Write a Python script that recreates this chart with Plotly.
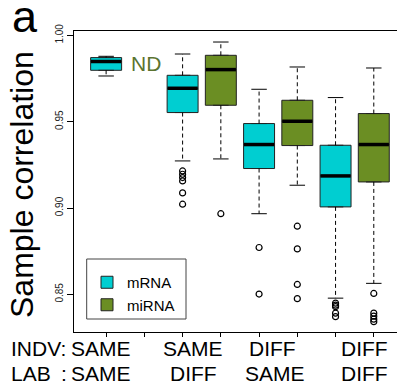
import plotly.graph_objects as go

# ---------------- data ----------------
series = ["mRNA", "miRNA"]

# box positions on the numeric x axis (group slots 1..8; slot 2 = miRNA SAME/SAME not determined)
mrna_pos = [1, 3, 5, 7]
mirna_pos = [4, 6, 8]

mrna_lower = [0.97645, 0.92726, 0.89670, 0.84780]
mrna_q1 = [0.97975, 0.95527, 0.92286, 0.90064]
mrna_median = [0.98484, 0.96933, 0.93675, 0.91858]
mrna_q3 = [0.98710, 0.97685, 0.94890, 0.93634]
mrna_upper = [0.98785, 0.98918, 0.96875, 0.96395]
mrna_outliers = [
    [],
    [0.92147, 0.91956, 0.91765, 0.91568, 0.90874, 0.90220],
    [0.87714, 0.85017],
    [0.84491, 0.84375, 0.84288, 0.83912, 0.83710],
]

mirna_lower = [0.92842, 0.91319, 0.85637]
mirna_q1 = [0.95949, 0.93617, 0.91510]
mirna_median = [0.98015, 0.95023, 0.93675]
mirna_q3 = [0.98843, 0.96238, 0.95469]
mirna_upper = [0.99612, 0.98166, 0.98108]
mirna_outliers = [
    [0.89670],
    [0.88947, 0.87633, 0.85573, 0.84751],
    [0.85052, 0.83912, 0.83738, 0.83565, 0.83420],
]

nd_label = "ND"
nd_pos = 2

y_ticks = [0.85, 0.90, 0.95, 1.00]
y_tick_labels = ["0.85", "0.90", "0.95", "1.00"]

row_titles = ["INDV", "LAB"]
indv_labels = ["SAME", "SAME", "DIFF", "DIFF"]
lab_labels = ["SAME", "DIFF", "SAME", "DIFF"]
y_title = "Sample correlation"
panel_label = "a"

# ---------------- style ----------------
CYAN = "#00CED1"
OLIVE = "#6B8E23"
ND_COLOR = "#5B7330"
FONT = "Liberation Sans, Arial, sans-serif"
BOX_W = 0.81

# the page body has an 8px margin, so the figure is sized to fill the rest of the window
OFF = 8
W, H = 405 - OFF, 384 - OFF
ML, MR, MT, MB = 74 - OFF, 1, 31 - OFF, 52
PW, PH = W - ML - MR, H - MT - MB


def px_x(p):
    """window pixel x -> paper coordinate"""
    return (p - OFF - ML) / PW


def px_y(p):
    """window pixel y -> paper coordinate"""
    return (H - MB - (p - OFF)) / PH


fig = go.Figure()


def add_series(name, pos, lo, q1, med, q3, up, outs, color):
    # dashed whiskers
    wx, wy = [], []
    for p, a, b, c, d in zip(pos, lo, q1, q3, up):
        wx += [p, p, None, p, p, None]
        wy += [c, d, None, b, a, None]
    fig.add_trace(go.Scatter(x=wx, y=wy, mode="lines", showlegend=False,
                             line=dict(color="black", width=1, dash="4px,3px"),
                             hoverinfo="skip"))
    # staples
    sx, sy = [], []
    for p, a, d in zip(pos, lo, up):
        sx += [p - BOX_W / 4, p + BOX_W / 4, None, p - BOX_W / 4, p + BOX_W / 4, None]
        sy += [a, a, None, d, d, None]
    fig.add_trace(go.Scatter(x=sx, y=sy, mode="lines", showlegend=False,
                             line=dict(color="black", width=1), hoverinfo="skip"))
    # boxes
    fig.add_trace(go.Box(name=name, x=pos, q1=q1, median=med, q3=q3,
                         lowerfence=q1, upperfence=q3, width=BOX_W,
                         fillcolor=color, line=dict(color="#222222", width=1),
                         boxpoints=False, showlegend=True))
    # thick medians
    mx, my = [], []
    for p, m in zip(pos, med):
        mx += [p - BOX_W / 2 + 0.01, p + BOX_W / 2 - 0.01, None]
        my += [m, m, None]
    fig.add_trace(go.Scatter(x=mx, y=my, mode="lines", showlegend=False,
                             line=dict(color="black", width=3.5), hoverinfo="skip"))
    # outliers
    ox, oy = [], []
    for p, o in zip(pos, outs):
        ox += [p] * len(o)
        oy += o
    fig.add_trace(go.Scatter(x=ox, y=oy, mode="markers", showlegend=False,
                             marker=dict(symbol="circle-open", size=6,
                                         color="black", line=dict(width=1.2))))


add_series(series[0], mrna_pos, mrna_lower, mrna_q1, mrna_median, mrna_q3,
           mrna_upper, mrna_outliers, CYAN)
add_series(series[1], mirna_pos, mirna_lower, mirna_q1, mirna_median, mirna_q3,
           mirna_upper, mirna_outliers, OLIVE)

annotations = [
    dict(text=nd_label, x=nd_pos + 0.03, y=0.9837, xref="x", yref="y",
         xanchor="center", yanchor="middle",
         showarrow=False, font=dict(size=21, color=ND_COLOR, family=FONT)),
    dict(text=panel_label, x=px_x(25), y=px_y(17), xref="paper", yref="paper",
         xanchor="center", yanchor="middle",
         showarrow=False, font=dict(size=45, color="black", family=FONT)),
    dict(text=y_title, x=px_x(22), y=px_y(185), xref="paper", yref="paper",
         xanchor="center", yanchor="middle",
         textangle=-90, showarrow=False,
         font=dict(size=32, color="black", family=FONT)),
]

# bottom condition labels
LBL_FONT = dict(size=21, color="black", family=FONT)
row_y = [px_y(348.5), px_y(373.5)]
group_x = [[100.5, 193, 272, 364], [100.5, 193, 275, 364]]
for r, (title, labels) in enumerate(zip(row_titles, [indv_labels, lab_labels])):
    if r == 0:
        annotations.append(dict(text=title + ":", x=px_x(9), y=row_y[r], xref="paper",
                                yref="paper", xanchor="left", yanchor="middle",
                                showarrow=False, font=LBL_FONT))
    else:
        annotations.append(dict(text=title, x=px_x(9), y=row_y[r], xref="paper",
                                yref="paper", xanchor="left", yanchor="middle",
                                showarrow=False, font=LBL_FONT))
        annotations.append(dict(text=":", x=px_x(63.5), y=row_y[r], xref="paper",
                                yref="paper", xanchor="center", yanchor="middle",
                                showarrow=False, font=LBL_FONT))
    for gx, lab in zip(group_x[r], labels):
        annotations.append(dict(text=lab, x=px_x(gx), y=row_y[r], xref="paper",
                                yref="paper", xanchor="center", yanchor="middle",
                                showarrow=False, font=LBL_FONT))

shapes = [
    dict(type="rect", xref="paper", yref="paper",
         x0=px_x(86.7), x1=px_x(186), y0=px_y(319), y1=px_y(259),
         line=dict(color="#444444", width=1), fillcolor="rgba(0,0,0,0)"),
]

fig.update_layout(
    width=W, height=H,
    margin=dict(l=ML, r=MR, t=MT, b=MB, pad=0),
    paper_bgcolor="white", plot_bgcolor="white",
    font=dict(family=FONT, color="black"),
    showlegend=True,
    legend=dict(x=px_x(87), y=px_y(266), xanchor="left", yanchor="top",
                bgcolor="rgba(0,0,0,0)", borderwidth=0,
                font=dict(size=15, family=FONT, color="black"),
                tracegroupgap=0),
    annotations=annotations,
    shapes=shapes,
    xaxis=dict(range=[0.16, 8.79], tickmode="array", tickvals=list(range(1, 9)),
               showticklabels=False, ticks="outside", ticklen=4, tickcolor="black",
               showline=True, mirror=True, linecolor="black", linewidth=1,
               showgrid=False, zeroline=False, fixedrange=True),
    yaxis=dict(range=[0.8282, 1.0025], tickmode="array", tickvals=y_ticks,
               ticktext=y_tick_labels, tickangle=-90, ticks="outside", ticklen=6,
               tickcolor="black", tickfont=dict(size=10, color="#222222", family=FONT),
               showline=True, mirror=True, linecolor="black", linewidth=1,
               showgrid=False, zeroline=False, fixedrange=True),
)

fig.write_html("out.html")
